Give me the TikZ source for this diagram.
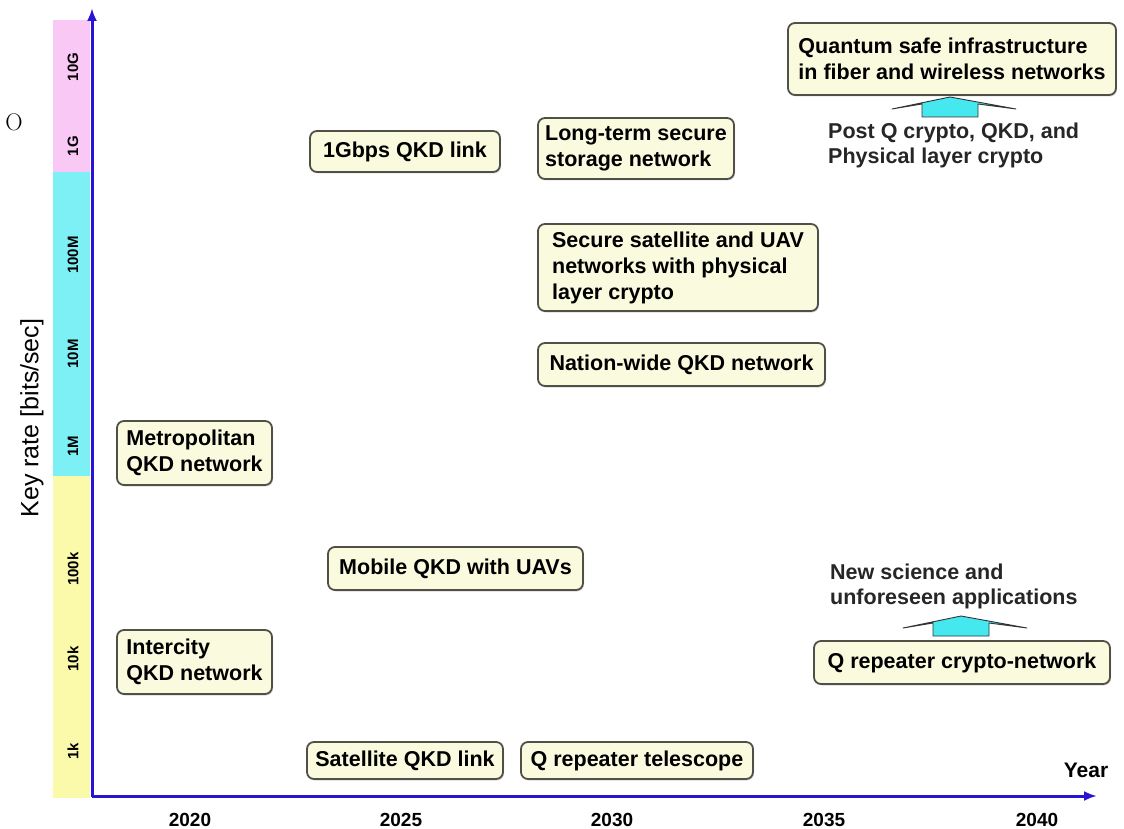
\documentclass[tikz,border=0pt]{standalone}
\usepackage{fontspec}
\setmainfont{Liberation Sans}
\newfontfamily\serifface{Latin Modern Roman}
\usetikzlibrary{arrows.meta,shadows}
\definecolor{boxfill}{RGB}{250,250,222}
\definecolor{boxline}{RGB}{80,80,70}
\definecolor{axisblue}{RGB}{40,20,210}
\definecolor{bandpink}{RGB}{250,200,245}
\definecolor{bandcyan}{RGB}{125,240,245}
\definecolor{bandyellow}{RGB}{250,250,170}
\definecolor{arrowcyan}{RGB}{70,232,240}
\begin{document}
\begin{tikzpicture}[x=1pt,y=-1pt,
  milestone/.style={draw=boxline, line width=1.8pt, fill=boxfill, rounded corners=7pt,
    font=\bfseries\fontsize{21.5}{26}\selectfont, align=left, inner sep=0pt,
    drop shadow={shadow xshift=1pt,shadow yshift=-1.5pt,fill=black!30}},
  freetext/.style={font=\bfseries\fontsize{21.5}{25}\selectfont, align=left, anchor=west, inner sep=0pt, text=black!85},
  ticklbl/.style={font=\bfseries\fontsize{15}{18}\selectfont, rotate=90, inner sep=0pt},
  yearlbl/.style={font=\bfseries\fontsize{19}{22}\selectfont, inner sep=0pt},
  axis/.style={draw=axisblue, line width=3pt, -{Latex[length=13pt,width=10pt]}},
  pics/uparrow/.style={code={
    \draw[fill=arrowcyan, draw=black!80, line width=0.9pt, line join=round]
      (-58,12) -- (0,0) -- (66,12) -- (28,7) -- (28,20) -- (-28,20) -- (-28,7) -- cycle;}}
]
\useasboundingbox (0,0) rectangle (1124,829);

% colour band of key rates
\fill[bandpink]   (53,20)  rectangle (90,172);
\fill[bandcyan]   (53,172) rectangle (90,476);
\fill[bandyellow] (53,476) rectangle (90,798);

% axes
\coordinate (origin) at (92,797);
\coordinate (ytop) at (92,8);
\coordinate (xend) at (1097,796);
\draw[axis] (origin) -- (ytop);
\draw[axis] (92,796) -- (xend);

% tick labels on key-rate axis
\node[ticklbl] (t10G)  at (73,67)  {10G};
\node[ticklbl] (t1G)   at (73,146) {1G};
\node[ticklbl] (t100M) at (73,255) {100M};
\node[ticklbl] (t10M)  at (73,354) {10M};
\node[ticklbl] (t1M)   at (73,446) {1M};
\node[ticklbl] (t100k) at (73,569) {100k};
\node[ticklbl] (t10k)  at (73,659) {10k};
\node[ticklbl] (t1k)   at (73,751) {1k};

\node[font=\fontsize{25}{30}\selectfont, rotate=90, inner sep=0pt] (ylabel) at (32,418) {Key rate [bits/sec]};

% years
\node[yearlbl] (y2020) at (190,820) {2020};
\node[yearlbl] (y2025) at (401,820) {2025};
\node[yearlbl] (y2030) at (612,820) {2030};
\node[yearlbl] (y2035) at (824,820) {2035};
\node[yearlbl] (y2040) at (1037,820) {2040};
\node[font=\bfseries\fontsize{21}{25}\selectfont, inner sep=0pt] (year) at (1086,770) {Year};

% stray letter at left margin
\node[font=\serifface\fontsize{24}{28}\selectfont, inner sep=0pt] (stray) at (14,122) {O};

% milestones
\node[milestone, minimum width=190pt, minimum height=41pt] (q1g) at (405,151.5) {1Gbps QKD link};
\node[milestone, minimum width=196pt, minimum height=61pt] (longterm) at (636,148.5) {Long-term secure\\storage network};
\node[milestone, minimum width=328pt, minimum height=72pt] (quantum) at (952,59) {Quantum safe infrastructure\\in fiber and wireless networks};
\node[milestone, minimum width=280pt, minimum height=87pt] (secsat) at (678,267.5) {Secure satellite and UAV\\networks with physical\\layer crypto};
\node[milestone, minimum width=287pt, minimum height=43pt] (nation) at (681.5,364.5) {Nation-wide QKD network};
\node[milestone, minimum width=155pt, minimum height=64pt] (metro) at (194.5,453) {Metropolitan\\QKD network};
\node[milestone, minimum width=255pt, minimum height=43pt] (mobile) at (455.5,568.5) {Mobile QKD with UAVs};
\node[milestone, minimum width=296pt, minimum height=43pt] (qrepnet) at (962,662.5) {Q repeater crypto-network};
\node[milestone, minimum width=155pt, minimum height=64pt] (intercity) at (194.5,662) {Intercity\\QKD network};
\node[milestone, minimum width=196pt, minimum height=37pt] (satlink) at (405,760.5) {Satellite QKD link};
\node[milestone, minimum width=232pt, minimum height=37pt] (qreptel) at (637,760.5) {Q repeater telescope};

% free texts
\node[freetext] (post) at (828,145) {Post Q crypto, QKD, and\\Physical layer crypto};
\node[freetext] (newsci) at (830,586) {New science and\\unforeseen applications};

% block arrows
\coordinate (ua) at (950,97);
\coordinate (la) at (961,616);
\pic at (ua) {uparrow};
\pic at (la) {uparrow};
\end{tikzpicture}
\end{document}
